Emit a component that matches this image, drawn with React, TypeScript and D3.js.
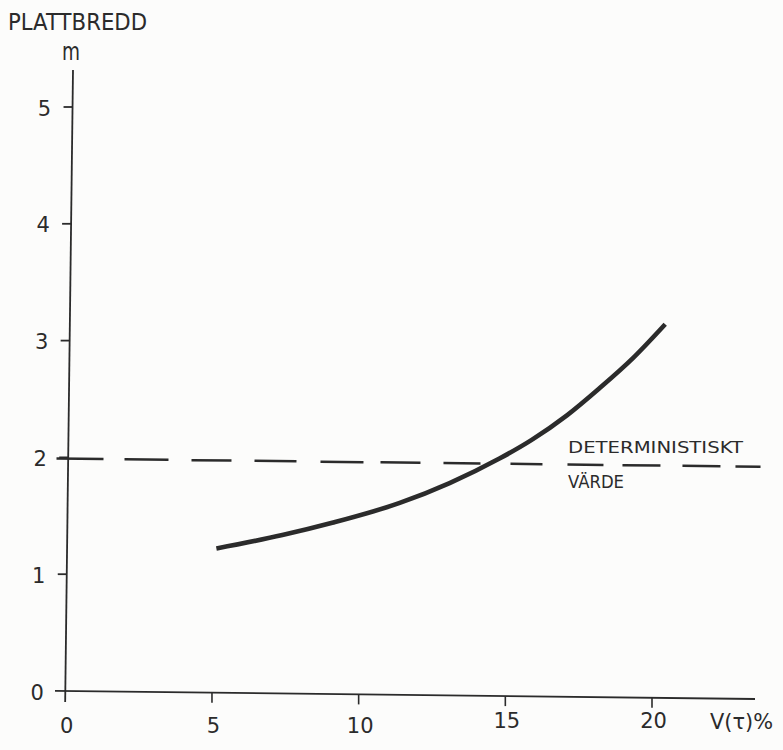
import React from "react";
import * as d3 from "d3";

// Plate width (m) against the coefficient of variation V(τ) in percent
const curveX = [5.15, 7.4, 9.1, 11.4, 13.1, 14.8, 15.9, 17.1, 18.2, 19.35, 20.45];
const curveY = [1.22, 1.335, 1.44, 1.61, 1.78, 1.99, 2.15, 2.36, 2.59, 2.85, 3.14];

// Deterministic value, drawn as a dashed reference line
const detX = [-0.3, 23.7];
const detY = [1.99, 1.92];

const xTicks = [0, 5, 10, 15, 20];
const yTicks = [0, 1, 2, 3, 4, 5];

const W = 783;
const H = 750;
const ink = "#2b2b2b";
const font = "'DejaVu Sans', sans-serif";

export default function App() {
  const x = d3.scaleLinear().domain([0, 20]).range([65.3, 652]);
  const y = d3.scaleLinear().domain([0, 5]).range([691, 107]);

  // The hand-ruled axes lean a little: the vertical one to the right at the top,
  // the horizontal one downward to the right.
  const axisTopY = 70;
  const yAxisX = (py: number) => x(0) + (7.7 * (y(0) - py)) / (y(0) - axisTopY);
  const xAxisY = (px: number) => y(0) + (8 * (px - x(0))) / 690;

  const pts: [number, number][] = curveX.map((v, i) => [x(v), y(curveY[i])]);
  const curve = d3.line().curve(d3.curveMonotoneX)(pts) || "";

  const det = d3.line()(detX.map((v, i) => [x(v), y(detY[i])] as [number, number])) || "";

  const xAxisStart = 55;
  const xAxisEnd = 755;

  return (
    <svg
      width={W}
      height={H}
      style={{ position: "absolute", left: 0, top: 0, background: "#fcfcfb" }}
      fontFamily={font}
    >
      {/* y axis */}
      <line
        x1={yAxisX(axisTopY)}
        y1={axisTopY}
        x2={yAxisX(y(0) + 11)}
        y2={y(0) + 11}
        stroke={ink}
        strokeWidth={1.8}
      />
      {/* x axis */}
      <line
        x1={xAxisStart}
        y1={xAxisY(xAxisStart)}
        x2={xAxisEnd}
        y2={xAxisY(xAxisEnd)}
        stroke={ink}
        strokeWidth={1.8}
      />

      {/* y ticks and labels */}
      {yTicks.map((t) => {
        const py = y(t);
        const ax = yAxisX(py);
        return (
          <g key={"y" + t}>
            {t !== 0 && (
              <line x1={ax - 9} y1={py} x2={ax} y2={py} stroke={ink} strokeWidth={1.8} />
            )}
            <text
              x={ax - 28}
              y={py + 1.5}
              textAnchor="middle"
              dominantBaseline="central"
              fontSize={21}
              fill={ink}
            >
              {t}
            </text>
          </g>
        );
      })}

      {/* x ticks and labels */}
      {xTicks.map((t) => {
        const px = x(t);
        const py = xAxisY(px);
        return (
          <g key={"x" + t}>
            {t !== 0 && (
              <line x1={px} y1={py} x2={px} y2={py + 10} stroke={ink} strokeWidth={1.6} />
            )}
            <text
              x={px + 1.5}
              y={t === 0 || t === 5 || t === 10 ? 726 : 721}
              textAnchor="middle"
              dominantBaseline="central"
              fontSize={21}
              fill={ink}
            >
              {t}
            </text>
          </g>
        );
      })}

      {/* deterministic value */}
      <path
        d={det}
        fill="none"
        stroke={ink}
        strokeWidth={2.5}
        strokeDasharray="47 21 44 23 40 23 42 24 43 17 40 23 37 30 32 25 36 19 38 22 38 15 28"
      />

      {/* plate width curve */}
      <path d={curve} fill="none" stroke={ink} strokeWidth={4.6} strokeLinecap="butt" />

      {/* axis titles */}
      <text x={8} y={30} fontSize={23} textLength={139} lengthAdjust="spacingAndGlyphs" fill={ink}>
        PLATTBREDD
      </text>
      <text x={62} y={60} fontSize={25} textLength={18} lengthAdjust="spacingAndGlyphs" fill={ink}>
        m
      </text>
      <text x={710} y={729} fontSize={22} textLength={63} lengthAdjust="spacingAndGlyphs" fill={ink}>
        V(τ)%
      </text>

      {/* label for the dashed line */}
      <text x={568} y={453} fontSize={16.5} textLength={175} lengthAdjust="spacingAndGlyphs" fill={ink}>
        DETERMINISTISKT
      </text>
      <text x={568} y={488} fontSize={17.5} textLength={56} lengthAdjust="spacingAndGlyphs" fill={ink}>
        VÄRDE
      </text>
    </svg>
  );
}
